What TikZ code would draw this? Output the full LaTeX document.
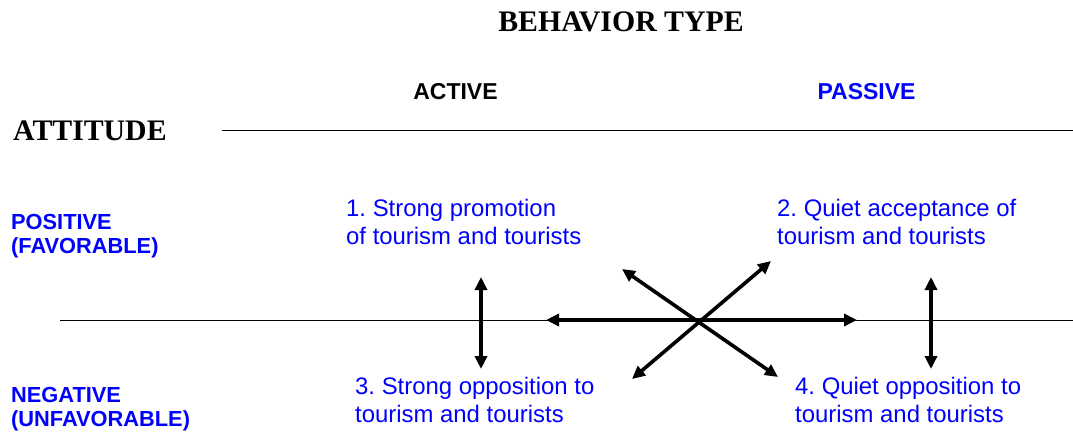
\documentclass[tikz,border=0pt]{standalone}
\usepackage{fontspec}
\setmainfont{Liberation Serif}
\setsansfont{Liberation Sans}
\usetikzlibrary{arrows.meta}
\definecolor{qblue}{RGB}{0,0,255}
\frenchspacing
\begin{document}
\begin{tikzpicture}[x=1pt,y=-1pt,
  title/.style={font=\fontsize{29.8}{32}\selectfont\rmfamily\bfseries, inner sep=0, anchor=base},
  colhead/.style={font=\fontsize{23}{26}\selectfont\sffamily\bfseries, inner sep=0, anchor=base},
  rowhead/.style={font=\fontsize{21.8}{24.5}\selectfont\sffamily\bfseries, text=qblue, inner sep=0, align=left, anchor=north west},
  quad/.style={font=\fontsize{23.9}{27.5}\selectfont\sffamily, text=qblue, inner sep=0, align=left, anchor=north west},
  rule/.style={line width=1pt},
  link/.style={line width=3.6pt, {Triangle[length=13pt,width=12pt]}-{Triangle[length=13pt,width=12pt]}}
]
\useasboundingbox (0,0) rectangle (1073,433);

% headings
\node[title] (head) at (621,32) {BEHAVIOR TYPE};
\node[title, anchor=base west] (attitude) at (13,140) {ATTITUDE};
\node[colhead] (active) at (455.5,100) {ACTIVE};
\node[colhead, text=qblue] (passive) at (866.5,100) {PASSIVE};

% row labels
\node[rowhead] (pos) at (11,214) {POSITIVE\\(FAVORABLE)};
\node[rowhead] (neg) at (11,387) {NEGATIVE\\(UNFAVORABLE)};

% the four quadrant texts
\node[quad] (q1) at (346,199) {1. Strong promotion\\of tourism and tourists};
\node[quad] (q2) at (777,199) {2. Quiet acceptance of\\tourism and tourists};
\node[quad] (q3) at (355,377) {3. Strong opposition to\\tourism and tourists};
\node[quad] (q4) at (795,377) {4. Quiet opposition to\\tourism and tourists};

% rules
\coordinate (topL) at (222,131);
\coordinate (topR) at (1073,131);
\coordinate (midL) at (60,320);
\coordinate (midR) at (1073,320);
\draw[rule] (topL) -- (topR);
\draw[rule] (midL) -- (midR);

% arrow end points
\coordinate (a1t) at (481,277);
\coordinate (a1b) at (481,369);
\coordinate (a2t) at (931,277);
\coordinate (a2b) at (931,369);
\coordinate (hL) at (546,320);
\coordinate (hR) at (857,320);
\coordinate (dUL) at (622,269);
\coordinate (dLR) at (778,377);
\coordinate (dUR) at (771,261);
\coordinate (dLL) at (632,379);

\draw[link] (a1t) -- (a1b);
\draw[link] (a2t) -- (a2b);
\draw[link] (hL) -- (hR);
\draw[link] (dUL) -- (dLR);
\draw[link] (dUR) -- (dLL);
\end{tikzpicture}
\end{document}
